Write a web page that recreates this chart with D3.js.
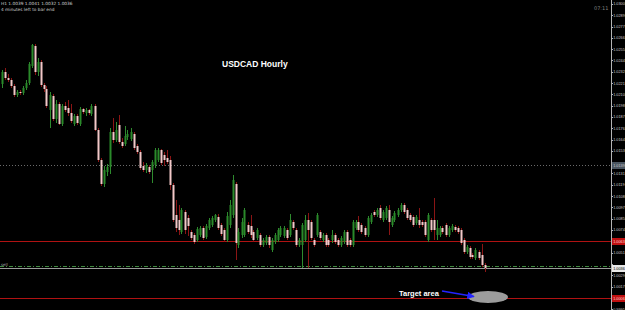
<!DOCTYPE html>
<html>
<head>
<meta charset="utf-8">
<script src="https://cdn.jsdelivr.net/npm/d3@7"></script>
<style>
  html, body { margin: 0; padding: 0; background: #000; }
  svg { display: block; }
</style>
</head>
<body>
<svg id="chart" width="625" height="310"></svg>
<script>
// hourly candles, [open, high, low, close]
const candles = [
  [1.0220,1.0234,1.0216,1.0232],[1.0232,1.0236,1.0224,1.0226],[1.0226,1.0230,1.0222,1.0224],[1.0224,1.0226,1.0216,1.0218],
  [1.0218,1.0220,1.0207,1.0209],[1.0209,1.0214,1.0207,1.0212],[1.0212,1.0214,1.0209,1.0211],[1.0211,1.0218,1.0209,1.0216],
  [1.0216,1.0224,1.0214,1.0221],[1.0221,1.0242,1.0219,1.0240],[1.0238,1.0260,1.0236,1.0259],[1.0258,1.0260,1.0229,1.0232],
  [1.0232,1.0246,1.0228,1.0242],[1.0242,1.0244,1.0217,1.0219],[1.0219,1.0221,1.0212,1.0215],[1.0215,1.0218,1.0196,1.0198],
  [1.0194,1.0212,1.0176,1.0209],[1.0208,1.0210,1.0183,1.0185],[1.0185,1.0204,1.0181,1.0200],[1.0200,1.0202,1.0179,1.0180],
  [1.0180,1.0200,1.0178,1.0198],[1.0198,1.0202,1.0192,1.0194],[1.0196,1.0204,1.0188,1.0191],[1.0191,1.0200,1.0181,1.0183],
  [1.0180,1.0190,1.0178,1.0188],[1.0188,1.0190,1.0179,1.0181],[1.0180,1.0197,1.0178,1.0195],[1.0195,1.0196,1.0190,1.0192],
  [1.0191,1.0196,1.0188,1.0194],[1.0194,1.0195,1.0189,1.0191],[1.0190,1.0200,1.0188,1.0198],[1.0198,1.0200,1.0173,1.0174],
  [1.0174,1.0176,1.0142,1.0144],[1.0144,1.0146,1.0118,1.0120],[1.0120,1.0138,1.0117,1.0134],[1.0132,1.0140,1.0128,1.0137],
  [1.0137,1.0176,1.0130,1.0172],[1.0172,1.0186,1.0161,1.0164],[1.0164,1.0182,1.0162,1.0174],[1.0179,1.0189,1.0160,1.0162],
  [1.0162,1.0166,1.0156,1.0158],[1.0160,1.0178,1.0158,1.0168],[1.0167,1.0174,1.0164,1.0170],[1.0165,1.0176,1.0163,1.0172],
  [1.0170,1.0172,1.0154,1.0156],[1.0158,1.0160,1.0150,1.0152],[1.0152,1.0154,1.0134,1.0136],[1.0138,1.0142,1.0132,1.0134],
  [1.0134,1.0141,1.0131,1.0139],[1.0137,1.0139,1.0130,1.0132],[1.0134,1.0144,1.0121,1.0142],[1.0139,1.0156,1.0136,1.0154],
  [1.0144,1.0156,1.0142,1.0154],[1.0154,1.0155,1.0139,1.0141],[1.0149,1.0152,1.0138,1.0144],[1.0146,1.0154,1.0140,1.0142],
  [1.0144,1.0148,1.0114,1.0119],[1.0119,1.0121,1.0082,1.0084],[1.0089,1.0104,1.0072,1.0076],[1.0084,1.0099,1.0069,1.0074],
  [1.0072,1.0096,1.0070,1.0094],[1.0092,1.0094,1.0070,1.0074],[1.0086,1.0089,1.0068,1.0078],[1.0072,1.0074,1.0064,1.0066],
  [1.0069,1.0071,1.0060,1.0062],[1.0064,1.0077,1.0062,1.0075],[1.0069,1.0078,1.0067,1.0076],[1.0076,1.0078,1.0064,1.0066],
  [1.0067,1.0080,1.0065,1.0078],[1.0076,1.0086,1.0074,1.0084],[1.0079,1.0088,1.0077,1.0086],[1.0084,1.0090,1.0082,1.0089],
  [1.0087,1.0090,1.0074,1.0076],[1.0079,1.0081,1.0068,1.0070],[1.0074,1.0076,1.0062,1.0064],[1.0064,1.0092,1.0062,1.0088],
  [1.0079,1.0104,1.0076,1.0099],[1.0089,1.0129,1.0086,1.0124],[1.0120,1.0122,1.0044,1.0061],[1.0059,1.0076,1.0056,1.0072],
  [1.0069,1.0086,1.0066,1.0082],[1.0069,1.0096,1.0067,1.0094],[1.0079,1.0082,1.0070,1.0072],[1.0078,1.0089,1.0066,1.0069],
  [1.0072,1.0074,1.0062,1.0064],[1.0066,1.0076,1.0064,1.0074],[1.0069,1.0071,1.0057,1.0059],[1.0059,1.0066,1.0057,1.0064],
  [1.0061,1.0069,1.0059,1.0067],[1.0067,1.0069,1.0056,1.0059],[1.0054,1.0066,1.0052,1.0064],[1.0062,1.0071,1.0060,1.0069],
  [1.0064,1.0076,1.0062,1.0074],[1.0069,1.0078,1.0067,1.0076],[1.0068,1.0078,1.0066,1.0076],[1.0074,1.0076,1.0064,1.0066],
  [1.0069,1.0090,1.0067,1.0084],[1.0082,1.0084,1.0074,1.0076],[1.0074,1.0076,1.0057,1.0059],[1.0059,1.0066,1.0057,1.0064],
  [1.0059,1.0081,1.0036,1.0079],[1.0064,1.0089,1.0062,1.0084],[1.0084,1.0091,1.0036,1.0074],[1.0082,1.0084,1.0064,1.0066],
  [1.0064,1.0066,1.0057,1.0059],[1.0069,1.0091,1.0067,1.0089],[1.0072,1.0074,1.0064,1.0066],[1.0064,1.0071,1.0062,1.0069],
  [1.0069,1.0071,1.0057,1.0059],[1.0064,1.0066,1.0057,1.0059],[1.0064,1.0074,1.0061,1.0069],[1.0069,1.0071,1.0060,1.0062],
  [1.0064,1.0066,1.0057,1.0059],[1.0059,1.0068,1.0057,1.0066],[1.0062,1.0074,1.0060,1.0072],[1.0072,1.0074,1.0057,1.0059],
  [1.0064,1.0066,1.0057,1.0059],[1.0059,1.0084,1.0057,1.0082],[1.0076,1.0084,1.0074,1.0082],[1.0082,1.0088,1.0072,1.0074],
  [1.0079,1.0081,1.0070,1.0072],[1.0076,1.0078,1.0067,1.0069],[1.0069,1.0088,1.0067,1.0086],[1.0082,1.0091,1.0080,1.0089],
  [1.0092,1.0094,1.0087,1.0089],[1.0089,1.0096,1.0087,1.0094],[1.0096,1.0099,1.0084,1.0086],[1.0084,1.0094,1.0082,1.0092],
  [1.0086,1.0098,1.0084,1.0096],[1.0094,1.0099,1.0069,1.0082],[1.0079,1.0088,1.0077,1.0086],[1.0084,1.0093,1.0082,1.0091],
  [1.0089,1.0096,1.0087,1.0094],[1.0094,1.0101,1.0092,1.0099],[1.0099,1.0101,1.0090,1.0092],[1.0094,1.0096,1.0084,1.0086],
  [1.0089,1.0091,1.0082,1.0084],[1.0087,1.0089,1.0077,1.0079],[1.0081,1.0089,1.0079,1.0087],[1.0084,1.0096,1.0076,1.0079],
  [1.0082,1.0084,1.0077,1.0079],[1.0082,1.0084,1.0067,1.0069],[1.0064,1.0091,1.0062,1.0089],[1.0084,1.0086,1.0072,1.0074],
  [1.0084,1.0106,1.0064,1.0074],[1.0069,1.0084,1.0064,1.0076],[1.0069,1.0078,1.0067,1.0076],[1.0076,1.0078,1.0070,1.0072],
  [1.0079,1.0081,1.0067,1.0069],[1.0069,1.0078,1.0067,1.0076],[1.0074,1.0080,1.0072,1.0078],[1.0077,1.0079,1.0072,1.0074],
  [1.0076,1.0078,1.0070,1.0072],[1.0074,1.0076,1.0059,1.0061],[1.0064,1.0066,1.0050,1.0052],[1.0052,1.0059,1.0050,1.0057],
  [1.0056,1.0058,1.0045,1.0047],[1.0049,1.0051,1.0045,1.0047],[1.0046,1.0056,1.0044,1.0054],[1.0052,1.0054,1.0044,1.0046],
  [1.0049,1.0060,1.0037,1.0039],[1.0039,1.0041,1.0032,1.0036]
];

const priceTicks = [1.03000,1.02887,1.02774,1.02661,1.02548,1.02435,1.02322,1.02209,1.02096,1.01983,
  1.01870,1.01757,1.01644,1.01531,1.01418,1.01305,1.01192,1.01079,1.00966,1.00853,
  1.00740,1.00627,1.00514,1.00401,1.00288,1.00175,1.00062,0.99949];

const dottedLevel = 1.0139;
const redLevels = [1.0063, 1.0006];
const askLevel = 1.0038;
const bidLevel = 1.0036;
const headerLines = ["H1 1.0039 1.0041 1.0032 1.0036", "4 minutes left to bar end"];
const clockText = "07:11";
const chartTitle = "USDCAD Hourly";
const targetLabel = "Target area";
const targetPrice = 1.0007;

const W = 625, H = 310, axisX = 611;
const svg = d3.select("#chart");
svg.append("rect").attr("width", W).attr("height", H).attr("fill", "#000");

const x = d3.scaleLinear().domain([0, candles.length - 1]).range([1.5, 484.5]);
const y = d3.scaleLinear().domain([1.0, 1.0304]).range([304, 0]);
const fmt = d3.format(".4f");
const py = p => Math.round(y(p)) + 0.5;

// level lines
svg.append("line")
  .attr("x1", 0).attr("x2", axisX).attr("y1", py(dottedLevel)).attr("y2", py(dottedLevel))
  .attr("stroke", "#6a6a6a").attr("stroke-dasharray", "1,2");
svg.selectAll(".red-level").data(redLevels).enter().append("line")
  .attr("class", "red-level")
  .attr("x1", 0).attr("x2", axisX)
  .attr("y1", d => py(d)).attr("y2", d => py(d))
  .attr("stroke", "#b01212");
svg.append("line")
  .attr("x1", 0).attr("x2", axisX).attr("y1", py(askLevel)).attr("y2", py(askLevel))
  .attr("stroke", "#3f8a3f").attr("stroke-dasharray", "4,2,1,2");
svg.append("line")
  .attr("x1", 0).attr("x2", axisX).attr("y1", py(bidLevel)).attr("y2", py(bidLevel))
  .attr("stroke", "#9a9a9a");

// candles
const bull = d => d[3] >= d[0];
const g = svg.append("g");
g.selectAll(".wick").data(candles).enter().append("line")
  .attr("class", "wick")
  .attr("x1", (d, i) => Math.round(x(i)) + 0.5).attr("x2", (d, i) => Math.round(x(i)) + 0.5)
  .attr("y1", d => y(d[1])).attr("y2", d => y(d[2]))
  .attr("stroke", d => bull(d) ? "#2e8b2e" : "#8b1515");
g.selectAll(".body").data(candles).enter().append("rect")
  .attr("class", "body")
  .attr("x", (d, i) => Math.round(x(i)) - 0.5)
  .attr("width", 2)
  .attr("y", d => y(Math.max(d[0], d[3])))
  .attr("height", d => Math.max(1, Math.abs(y(d[0]) - y(d[3]))))
  .attr("fill", d => bull(d) ? "#2a8a2a" : "#f2c8c8");

// price axis
const tags = [dottedLevel, ...redLevels, bidLevel];
svg.append("line").attr("x1", axisX + 0.5).attr("x2", axisX + 0.5).attr("y1", 0).attr("y2", H)
  .attr("stroke", "#b4b4b4");
const axis = svg.append("g");
const shownTicks = priceTicks.filter(t => tags.every(p => Math.abs(y(t) - y(p)) > 5));
axis.selectAll("text").data(shownTicks).enter().append("text")
  .attr("x", axisX + 2.2).attr("y", d => y(d) + 1.4)
  .attr("fill", "#c8c8c8").attr("font-family", "Liberation Sans").attr("font-size", 3.8)
  .text(d => fmt(d));
axis.selectAll(".tk").data(priceTicks).enter().append("line")
  .attr("class", "tk")
  .attr("x1", axisX).attr("x2", axisX + 2)
  .attr("y1", d => py(d)).attr("y2", d => py(d))
  .attr("stroke", "#b4b4b4");

function priceTag(p, bg, fg) {
  const yy = Math.round(y(p));
  svg.append("rect").attr("x", axisX + 1).attr("y", yy - 3).attr("width", W - axisX).attr("height", 7).attr("fill", bg);
  svg.append("text").attr("x", axisX + 2.2).attr("y", yy + 1.9)
    .attr("fill", fg).attr("font-family", "Liberation Sans").attr("font-size", 3.8)
    .text(fmt(p));
}
priceTag(dottedLevel, "#4a5560", "#c8c8c8");
redLevels.forEach(p => priceTag(p, "#c01010", "#ffd0d0"));
priceTag(bidLevel, "#e8e8e8", "#000");

// header texts
svg.selectAll(".hdr").data(headerLines).enter().append("text")
  .attr("class", "hdr")
  .attr("x", 1).attr("y", (d, i) => 5 + i * 5.5)
  .attr("fill", "#d0d0d0").attr("font-family", "DejaVu Sans").attr("font-size", 4.3)
  .text(d => d);
svg.append("text").attr("x", 594).attr("y", 10).attr("fill", "#808080")
  .attr("font-family", "DejaVu Sans").attr("font-size", 5).text(clockText);
svg.append("text").attr("x", 1).attr("y", 265.5).attr("fill", "#a0a0a0")
  .attr("font-family", "DejaVu Sans").attr("font-size", 4).text("sell");

svg.append("text").attr("x", 222).attr("y", 67).attr("fill", "#fff")
  .attr("font-family", "Liberation Sans").attr("font-weight", "bold").attr("font-size", 8.5)
  .text(chartTitle);

// target annotation
svg.append("defs").append("marker")
  .attr("id", "ah").attr("viewBox", "0 0 10 10").attr("refX", 9).attr("refY", 5)
  .attr("markerWidth", 5).attr("markerHeight", 5).attr("orient", "auto")
  .append("path").attr("d", "M0,0L10,5L0,10z").attr("fill", "#2323ff");
const ty = y(targetPrice);
svg.append("ellipse").attr("cx", 488).attr("cy", ty).attr("rx", 20).attr("ry", 6).attr("fill", "#9c9c9c");
svg.append("line").attr("x1", 442).attr("y1", 291).attr("x2", 474).attr("y2", ty - 0.5)
  .attr("stroke", "#2323ff").attr("stroke-width", 1.5).attr("marker-end", "url(#ah)");
svg.append("text").attr("x", 399).attr("y", 296).attr("fill", "#fff")
  .attr("font-family", "Liberation Sans").attr("font-weight", "bold").attr("font-size", 7.5)
  .text(targetLabel);
</script>
</body>
</html>
